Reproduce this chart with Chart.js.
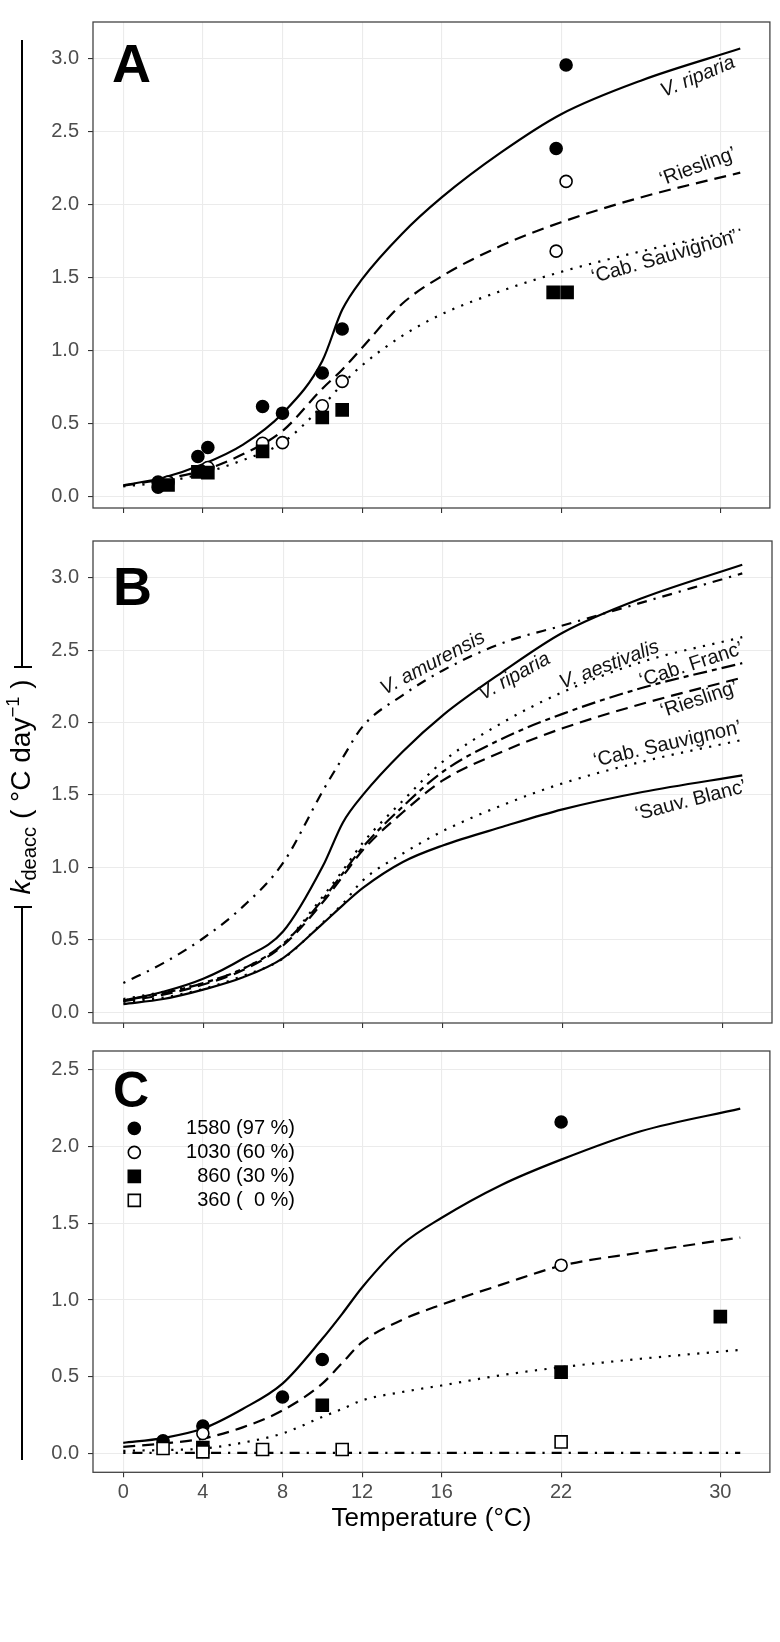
<!DOCTYPE html>
<html>
<head>
<meta charset="utf-8">
<script src="https://cdn.jsdelivr.net/npm/chart.js@4.4.1/dist/chart.umd.min.js"></script>
<style>
  body { margin: 0; background: #fff; }
  #wrap { position: relative; width: 780px; height: 1642px; overflow: hidden; }
  #wrap canvas { position: absolute; left: 0; }
  #ytitle {
    position: absolute; left: 22px; top: 787px;
    transform: translate(-50%, -50%) rotate(-90deg);
    white-space: nowrap; line-height: 1;
    font-family: 'Liberation Sans', Arial, Helvetica, sans-serif; font-size: 28px; color: #000;
  }
  #ytitle sub { font-size: 0.72em; vertical-align: -0.3em; }
  #ytitle sup { font-size: 0.66em; vertical-align: 0.6em; }
  .bar { position: absolute; background: #000; }
</style>
</head>
<body>
<div id="wrap">
  <canvas id="chartA" width="780" height="529" style="top:0px"></canvas>
  <canvas id="chartB" width="780" height="524" style="top:520px"></canvas>
  <canvas id="chartC" width="780" height="530" style="top:1030px"></canvas>
  <div class="bar" style="left:21px;top:40px;width:2px;height:627px"></div>
  <div class="bar" style="left:14px;top:666px;width:18px;height:2px"></div>
  <div class="bar" style="left:14px;top:906px;width:18px;height:2px"></div>
  <div class="bar" style="left:21px;top:906px;width:2px;height:554px"></div>
  <div id="ytitle"><i>k</i><sub>deacc</sub> ( °C day<sup>−1</sup> )</div>
</div>
<script>
var FONT = "'Liberation Sans', Arial, Helvetica, sans-serif";

// ---------------- axes ----------------
const xTickVals = [0, 4, 8, 12, 16, 22, 30];
const xTickLabels = ['0', '4', '8', '12', '16', '22', '30'];
const yTickValsAB = [0, 0.5, 1, 1.5, 2, 2.5, 3];
const yTickLabelsAB = ['0.0', '0.5', '1.0', '1.5', '2.0', '2.5', '3.0'];
const yTickValsC = [0, 0.5, 1, 1.5, 2, 2.5];
const yTickLabelsC = ['0.0', '0.5', '1.0', '1.5', '2.0', '2.5'];

// temperatures where the model curves were read
const curveX = [0, 2, 4, 6, 8, 10, 11, 12, 14, 16, 19, 22, 26, 31];

// ---------------- panel A ----------------
const aRiparia  = [0.078, 0.13, 0.222, 0.355, 0.57, 0.93, 1.28, 1.49, 1.80, 2.05, 2.36, 2.62, 2.85, 3.07];
const aRiesling = [0.075, 0.12, 0.18, 0.29, 0.45, 0.74, 0.87, 1.02, 1.32, 1.51, 1.72, 1.88, 2.05, 2.22];
const aCabSauv  = [0.07, 0.10, 0.16, 0.25, 0.37, 0.62, 0.77, 0.90, 1.10, 1.25, 1.41, 1.54, 1.68, 1.83];

const aFilledCircX = [1.75, 1.75, 3.75, 4.25, 7, 8, 10, 11, 21.75, 22.25];
const aFilledCircY = [0.065, 0.10, 0.275, 0.337, 0.618, 0.572, 0.847, 1.149, 2.385, 2.957];
const aOpenCircX = [2.25, 4.25, 7, 8, 10, 11, 21.75, 22.25];
const aOpenCircY = [0.10, 0.20, 0.366, 0.37, 0.623, 0.79, 1.682, 2.16];
const aSquareX = [2.25, 3.75, 4.25, 7, 10, 11, 21.6, 22.3];
const aSquareY = [0.08, 0.17, 0.165, 0.31, 0.542, 0.595, 1.40, 1.40];

// ---------------- panel B ----------------
const bAmurensis  = [0.201, 0.338, 0.51, 0.73, 1.03, 1.53, 1.76, 1.975, 2.19, 2.36, 2.55, 2.67, 2.83, 3.03];
const bRiparia    = [0.08, 0.14, 0.23, 0.37, 0.556, 1.01, 1.31, 1.50, 1.80, 2.05, 2.35, 2.62, 2.86, 3.09];
const bAestivalis = [0.09, 0.14, 0.2, 0.3, 0.47, 0.80, 0.98, 1.17, 1.46, 1.73, 2.00, 2.21, 2.42, 2.59];
const bCabFranc   = [0.08, 0.13, 0.2, 0.3, 0.47, 0.78, 0.96, 1.14, 1.42, 1.66, 1.89, 2.06, 2.24, 2.41];
const bRiesling   = [0.075, 0.12, 0.19, 0.29, 0.46, 0.76, 0.94, 1.12, 1.38, 1.60, 1.80, 1.96, 2.13, 2.31];
const bCabSauv    = [0.07, 0.10, 0.16, 0.25, 0.37, 0.62, 0.75, 0.91, 1.095, 1.25, 1.43, 1.58, 1.73, 1.88];
const bSauvBlanc  = [0.055, 0.09, 0.155, 0.24, 0.373, 0.613, 0.739, 0.858, 1.037, 1.151, 1.28, 1.40, 1.52, 1.635];

// ---------------- panel C ----------------
const c1580 = [0.069, 0.10, 0.162, 0.29, 0.455, 0.747, 0.91, 1.082, 1.36, 1.536, 1.75, 1.915, 2.10, 2.247];
const c1030 = [0.043, 0.065, 0.097, 0.17, 0.28, 0.455, 0.59, 0.725, 0.87, 0.97, 1.10, 1.223, 1.31, 1.407];
const c860  = [0.017, 0.022, 0.032, 0.07, 0.13, 0.238, 0.29, 0.346, 0.40, 0.443, 0.51, 0.562, 0.617, 0.675];
const c360  = [0.003, 0.003, 0.003, 0.003, 0.003, 0.003, 0.003, 0.003, 0.003, 0.003, 0.003, 0.003, 0.003, 0.003];

const c1580PtX = [2, 4, 8, 10, 22];
const c1580PtY = [0.082, 0.179, 0.368, 0.612, 2.16];
const c1030PtX = [4, 22];
const c1030PtY = [0.13, 1.227];
const c860PtX = [4, 10, 22, 30];
const c860PtY = [0.039, 0.314, 0.53, 0.892];
const c360PtX = [2, 4, 7, 11, 22];
const c360PtY = [0.032, 0.01, 0.026, 0.026, 0.075];

const legendLabelsC = ['1580 (97 %)', '1030 (60 %)', '860 (30 %)', '360 (\u20070 %)'];

// line types, ggplot-like
var SOLID = [];
var DASHED = [12, 7];
var DOTTED = [2.2, 7.4];
var DOTDASH = [2.2, 7, 10, 7];
var TWODASH = [5, 5, 14, 5];

function pts(xs, ys) {
  return xs.map(function (x, i) { return { x: x, y: ys[i] }; });
}

function curve(ys, dash) {
  return {
    data: pts(curveX, ys), showLine: true, borderColor: '#000', borderWidth: 2.2,
    borderDash: dash, borderCapStyle: 'butt', pointRadius: 0, pointHoverRadius: 0,
    cubicInterpolationMode: 'monotone', fill: false, order: 2
  };
}

function marks(xs, ys, style, filled) {
  return {
    data: pts(xs, ys), showLine: false, pointStyle: style,
    pointRadius: style === 'rect' ? 8.5 : 6,
    pointBackgroundColor: filled ? '#000' : '#fff', pointBorderColor: '#000',
    pointBorderWidth: 1.6, order: 1
  };
}

function scales(yMin, yMax, yVals, yLabs, showX, xHeight) {
  return {
    x: {
      type: 'linear', min: -1.52, max: 32.49,
      afterBuildTicks: function (s) { s.ticks = xTickVals.map(function (v) { return { value: v }; }); },
      afterFit: function (s) { s.height = xHeight; },
      grid: { color: '#ebebeb', lineWidth: 1.1, tickColor: '#333', tickLength: 5, tickWidth: 1.1 },
      border: { display: false },
      ticks: {
        display: showX, autoSkip: false, maxRotation: 0, padding: 3, color: '#4d4d4d',
        font: { family: FONT, size: 20 },
        callback: function (v, i) { return xTickLabels[i]; }
      },
      title: showX ? {
        display: true, text: 'Temperature (°C)', color: '#000',
        font: { family: FONT, size: 26 }, padding: { top: 0, bottom: 26 }
      } : { display: false }
    },
    y: {
      type: 'linear', min: yMin, max: yMax,
      afterBuildTicks: function (s) { s.ticks = yVals.map(function (v) { return { value: v }; }); },
      afterFit: function (s) { s.width = 93; },
      grid: { color: '#ebebeb', lineWidth: 1.1, tickColor: '#333', tickLength: 5, tickWidth: 1.1 },
      border: { display: false },
      ticks: {
        padding: 9, color: '#4d4d4d', font: { family: FONT, size: 20 },
        callback: function (v, i) { return yLabs[i]; }
      }
    }
  };
}

// border, panel letter, curve labels and legend
var decoPlugin = {
  id: 'deco',
  afterDraw: function (chart, args, opts) {
    var ctx = chart.ctx, a = chart.chartArea;
    ctx.save();
    ctx.strokeStyle = '#444';
    ctx.lineWidth = 1.3;
    ctx.strokeRect(a.left, a.top, a.right - a.left, a.bottom - a.top);

    ctx.fillStyle = '#000';
    ctx.font = 'bold ' + opts.letterSize + 'px ' + FONT;
    ctx.textAlign = 'left';
    ctx.textBaseline = 'alphabetic';
    ctx.fillText(opts.letter, a.left + opts.letterDx, a.top + opts.letterDy);

    (opts.labels || []).forEach(function (l) {
      var px = chart.scales.x.getPixelForValue(l.x);
      var py = chart.scales.y.getPixelForValue(l.y);
      ctx.save();
      ctx.translate(px, py);
      ctx.rotate(l.angle * Math.PI / 180);
      ctx.font = (l.italic ? 'italic ' : '') + '20px ' + FONT;
      ctx.textAlign = 'center';
      ctx.textBaseline = 'middle';
      ctx.fillStyle = '#111';
      ctx.fillText(l.text, 0, 0);
      ctx.restore();
    });

    if (opts.legend) {
      var lg = opts.legend;
      lg.items.forEach(function (it, i) {
        var sx = a.left + lg.dx, sy = a.top + lg.dy + i * lg.step;
        ctx.lineWidth = 1.6;
        ctx.strokeStyle = '#000';
        ctx.fillStyle = it.filled ? '#000' : '#fff';
        ctx.beginPath();
        if (it.style === 'circle') ctx.arc(sx, sy, 6, 0, Math.PI * 2);
        else ctx.rect(sx - 6, sy - 6, 12, 12);
        ctx.fill();
        ctx.stroke();
        ctx.fillStyle = '#000';
        ctx.font = '20px ' + FONT;
        ctx.textAlign = 'right';
        ctx.textBaseline = 'middle';
        ctx.fillText(legendLabelsC[i], a.left + lg.textRight, sy);
      });
    }
    ctx.restore();
  }
};

function base(datasets, sc, padTop, deco) {
  return {
    type: 'scatter',
    data: { datasets: datasets },
    options: {
      responsive: false, animation: false, devicePixelRatio: 1,
      layout: { padding: { top: padTop, right: 8, left: 0, bottom: 0 } },
      scales: sc,
      plugins: { legend: { display: false }, tooltip: { enabled: false }, deco: deco }
    },
    plugins: [decoPlugin]
  };
}

// ---------- A ----------
new Chart(document.getElementById('chartA'), base([
  marks(aSquareX, aSquareY, 'rect', true),
  marks(aOpenCircX, aOpenCircY, 'circle', false),
  marks(aFilledCircX, aFilledCircY, 'circle', true),
  curve(aRiparia, SOLID),
  curve(aRiesling, DASHED),
  curve(aCabSauv, DOTTED)
], scales(-0.0776, 3.252, yTickValsAB, yTickLabelsAB, false, 13), 22, {
  letter: 'A', letterSize: 54, letterDx: 19, letterDy: 60,
  labels: [
    { text: 'V. riparia', x: 28.87, y: 2.876, angle: -23, italic: true },
    { text: '\u2018Riesling\u2019', x: 28.87, y: 2.259, angle: -20 },
    { text: '\u2018Cab. Sauvignon\u2019', x: 27.2, y: 1.641, angle: -16 }
  ]
}));

// ---------- B ----------
new Chart(document.getElementById('chartB'), base([
  curve(bAmurensis, DOTDASH),
  curve(bRiparia, SOLID),
  curve(bAestivalis, DOTTED),
  curve(bCabFranc, TWODASH),
  curve(bRiesling, DASHED),
  curve(bCabSauv, DOTTED),
  curve(bSauvBlanc, SOLID)
], scales(-0.0755, 3.254, yTickValsAB, yTickLabelsAB, false, 8), 17, {
  letter: 'B', letterSize: 54, letterDx: 20, letterDy: 64,
  labels: [
    { text: 'V. amurensis', x: 15.5, y: 2.41, angle: -28, italic: true },
    { text: 'V. riparia', x: 19.59, y: 2.318, angle: -29, italic: true },
    { text: 'V. aestivalis', x: 24.34, y: 2.398, angle: -21, italic: true },
    { text: '\u2018Cab. Franc\u2019', x: 28.45, y: 2.398, angle: -18 },
    { text: '\u2018Riesling\u2019', x: 28.84, y: 2.158, angle: -18 },
    { text: '\u2018Cab. Sauvignon\u2019', x: 27.25, y: 1.849, angle: -13 },
    { text: '\u2018Sauv. Blanc\u2019', x: 28.42, y: 1.46, angle: -14.5 }
  ]
}));

// ---------- C ----------
new Chart(document.getElementById('chartC'), base([
  marks(c360PtX, c360PtY, 'rect', false),
  marks(c860PtX, c860PtY, 'rect', true),
  marks(c1030PtX, c1030PtY, 'circle', false),
  marks(c1580PtX, c1580PtY, 'circle', true),
  curve(c1580, SOLID),
  curve(c1030, DASHED),
  curve(c860, DOTTED),
  curve(c360, DOTDASH)
], scales(-0.123, 2.623, yTickValsC, yTickLabelsC, true, 87.7), 19.3, {
  letter: 'C', letterSize: 50, letterDx: 20, letterDy: 56,
  legend: {
    dx: 41.3, dy: 77.4, step: 24, textRight: 202,
    items: [
      { style: 'circle', filled: true },
      { style: 'circle', filled: false },
      { style: 'rect', filled: true },
      { style: 'rect', filled: false }
    ]
  }
}));
</script>
</body>
</html>
